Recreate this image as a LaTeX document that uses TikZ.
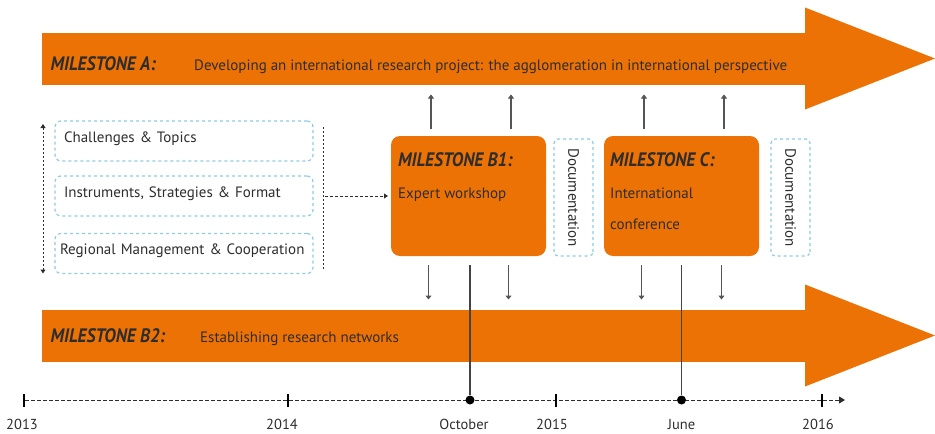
\documentclass[tikz,border=0pt]{standalone}
\usepackage{fontspec}
\setmainfont{PT Sans}
\newfontfamily\msfont[FakeStretch=0.9]{PT Sans}
\usepackage{tikz}
\usetikzlibrary{positioning}
\usetikzlibrary{calc}
\usetikzlibrary{arrows.meta}
\definecolor{msorange}{RGB}{237,114,5}
\definecolor{dashblue}{RGB}{140,205,225}
\definecolor{txtgray}{RGB}{45,45,45}
\definecolor{edgegray}{RGB}{85,85,85}
\tikzset{bar/.style={
		rectangle,
		fill=msorange,
		inner sep = 0pt,
		outer sep = 0pt,
		minimum width=763pt,
		minimum height=52pt,
		anchor=north west,
	}
}
\tikzset{msbox/.style={
		rectangle,
		rounded corners=9pt,
		fill=msorange,
		inner sep = 0pt,
		outer sep = 0pt,
		minimum width=155pt,
		minimum height=120pt,
	}
}
\tikzset{topicbox/.style={
		rectangle,
		draw=dashblue,
		dashed,
		line width=1.2pt,
		rounded corners=6pt,
		inner xsep=9pt,
		inner ysep=0pt,
		outer sep=0pt,
		minimum height=40pt,
		text width=240pt,
		text depth=8pt,
		align=left,
		text=txtgray,
		font=\fontsize{15}{17}\selectfont,
	}
}
\tikzset{docbox/.style={
		rectangle,
		draw=dashblue,
		dashed,
		line width=1.2pt,
		rounded corners=4pt,
		rotate=-90,
		inner sep=0pt,
		minimum width=117pt,
		minimum height=39pt,
		text=txtgray,
		font=\fontsize{15}{17}\selectfont,
	}
}
\tikzset{mstitle/.style={
		inner sep=0pt,
		text=txtgray,
		font=\msfont\bfseries\itshape\fontsize{19.5}{21}\selectfont,
	}
}
\tikzset{mstext/.style={
		inner sep=0pt,
		text=txtgray,
		font=\fontsize{15}{17}\selectfont,
	}
}
\tikzset{vedge/.style={
		draw=edgegray,
		line width=1.1pt,
		-{Triangle[width=6pt,length=4pt]},
	}
}
\tikzset{vline/.style={
		draw=edgegray!80!black,
		line width=1.2pt,
	}
}
\tikzset{tick/.style={
		rectangle,
		fill=black,
		inner sep=0pt,
		minimum width=2.5pt,
		minimum height=13pt,
	}
}
\tikzset{dot/.style={
		circle,
		fill=black,
		inner sep=0pt,
		minimum size=9pt,
	}
}
\tikzset{yr/.style={
		inner sep=0pt,
		text=txtgray,
		font=\fontsize{14.5}{16}\selectfont,
	}
}

\begin{document}
\begin{tikzpicture}[x=1pt, y=-1pt]

\useasboundingbox (0,0) rectangle (935,434);

% milestone bars
\node[bar] (bara) at (42,32.5) {};
\node[bar] (barb) at (42,309.5) {};
\coordinate (tipa) at ([xshift=130]bara.east);
\coordinate (tipb) at ([xshift=130]barb.east);
\fill[msorange] (bara.north east) -- ++(0,-25) -- (tipa) -- ([yshift=-25]bara.south east) -- cycle;
\fill[msorange] (barb.north east) -- ++(0,-25) -- (tipb) -- ([yshift=-25]barb.south east) -- cycle;

\node[mstitle, anchor=base west] (msa) at ([xshift=8.5, yshift=-11.5]bara.west) {MILESTONE A:};
\node[mstext, anchor=base west] (desca) at ([xshift=152, yshift=-11.5]bara.west) {Developing an international research project: the agglomeration in international perspective};
\node[mstitle, anchor=base west] (msb) at ([xshift=8.5, yshift=-6.5]barb.west) {MILESTONE B2:};
\node[mstext, anchor=base west] (descb) at ([xshift=158, yshift=-6.5]barb.west) {Establishing research networks};

% topics
\node[topicbox] (topics) at (184,141) {Challenges \& Topics};
\node[topicbox] (instr) at (184,196) {Instruments, Strategies \& Format};
\node[topicbox, inner xsep=5pt, text width=248pt] (regman) at (184,253.5) {Regional Management \& Cooperation};

\draw[draw=txtgray, line width=1pt, dash pattern=on 2pt off 2pt, {Triangle[width=5pt,length=4pt]}-{Triangle[width=5pt,length=4pt]}] ([xshift=-12, yshift=-3]topics.north west) -- ([xshift=-12]regman.south west);
\draw[draw=txtgray, line width=1pt, dash pattern=on 2pt off 2pt] ([xshift=10, yshift=-6]topics.north east) -- ([xshift=10, yshift=5]regman.south east);

% milestone boxes
\node[msbox] (b1) at (468.5,196) {};
\node[msbox] (mc) at (681.5,196) {};
\node[docbox] (doca) at (573.5,197.5) {Documentation};
\node[docbox] (docb) at (790.5,197.5) {Documentation};

\node[mstitle, anchor=base west] (b1t) at ([xshift=7, yshift=-30]b1.north west) {MILESTONE B1:};
\node[mstext, anchor=base west] (b1d) at ([yshift=-32]b1t.base west) {Expert workshop};
\node[mstitle, anchor=base west] (mct) at ([xshift=6, yshift=-30]mc.north west) {MILESTONE C:};
\node[mstext, anchor=base west] (mcd) at ([yshift=-32]mct.base west) {International};
\node[mstext, anchor=base west] (mce) at ([yshift=-31]mcd.base west) {conference};

\draw[draw=txtgray, line width=1pt, dash pattern=on 3pt off 2pt, -{Triangle[width=5pt,length=4pt]}] ([xshift=12]instr.east) -- ([xshift=-3]b1.west);

% arrows to the bars
\coordinate (abot) at ([yshift=-10]bara.south);
\coordinate (btop) at ([yshift=10]barb.north);
\foreach \ms in {b1,mc} {
	\foreach \dx in {-37.5,42.5} {
		\draw[vedge] ([xshift=\dx, yshift=7]\ms.north) -- ([xshift=\dx]\ms.north |- abot);
	}
	\foreach \dx in {-40,40} {
		\draw[vedge] ([xshift=\dx, yshift=-9]\ms.south) -- ([xshift=\dx]\ms.south |- btop);
	}
}

% timeline
\coordinate (tend) at (845,400);
\node[tick] (y13) at (24,400) {};
\draw[draw=txtgray, line width=1pt, dash pattern=on 3.5pt off 2.5pt, -{Triangle[width=7pt,length=6pt]}] (y13) -- (tend);
\node[tick] (y14) at (288,400) {};
\node[tick] (y15) at (556,400) {};
\node[tick] (y16) at (822,400) {};
\node[dot] (oct) at (470,400) {};
\node[dot] (june) at (681.5,400) {};
\draw[vline] ([yshift=-9]b1.south -| oct) -- (oct);
\draw[vline] ([yshift=-9]mc.south -| june) -- (june);

\node[yr, anchor=north] (l13) at ([xshift=-2, yshift=-12]y13.south) {2013};
\node[yr, anchor=north] (l14) at ([xshift=-6, yshift=-12]y14.south) {2014};
\node[yr, anchor=north] (l15) at ([xshift=-4, yshift=-12]y15.south) {2015};
\node[yr, anchor=north] (l16) at ([xshift=-4, yshift=-12]y16.south) {2016};
\node[yr, anchor=north] (loct) at ([xshift=-6, yshift=-14]oct.south) {October};
\node[yr, anchor=north] (ljune) at ([yshift=-14]june.south) {June};

\end{tikzpicture}
\end{document}
